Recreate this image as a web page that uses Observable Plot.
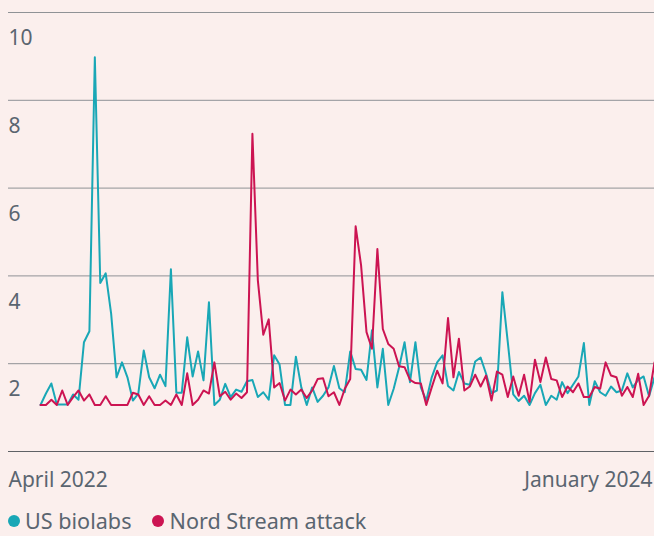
<!DOCTYPE html>
<html><head><meta charset="utf-8">
<script src="https://cdn.jsdelivr.net/npm/d3@7"></script>
<script src="https://cdn.jsdelivr.net/npm/@observablehq/plot@0.6"></script>
<style>
html,body{margin:0;padding:0;background:#fbefed;}
body{width:654px;height:536px;overflow:hidden;font-family:"Noto Sans",sans-serif;color:#5a6570;}
#legend{display:flex;align-items:center;margin-top:11px;margin-left:8px;font-size:21.6px;line-height:20px;height:20px;}
.item{display:flex;align-items:center;margin-right:21px;}
.dot{width:12px;height:12px;border-radius:50%;margin-right:5px;}
</style></head><body>
<div id="chart"></div><div id="legend"></div>
<script>
const seriesNames = ["US biolabs", "Nord Stream attack"];
const seriesColors = ["#19a7b6", "#cc1452"];
const usBiolabs = [1.06,1.32,1.55,1.07,1.07,1.07,1.3,1.18,2.49,2.74,
  8.98,3.84,4.06,3.14,1.69,2.03,1.69,1.16,1.32,2.3,
  1.69,1.44,1.75,1.49,4.15,1.34,1.34,2.6,1.71,2.28,
  1.62,3.4,1.06,1.18,1.54,1.24,1.41,1.36,1.6,1.63,
  1.24,1.35,1.18,2.19,1.98,1.06,1.06,2.16,1.46,1.06,
  1.46,1.13,1.27,1.46,1.95,1.44,1.35,2.28,1.88,1.86,
  1.63,2.76,1.46,2.34,1.06,1.43,1.92,2.49,1.58,2.49,
  1.46,1.16,1.69,2.03,2.19,1.49,1.39,1.81,1.55,1.52,
  2.05,2.14,1.77,1.33,1.39,3.63,2.49,1.3,1.15,1.27,
  1.06,1.33,1.52,1.06,1.27,1.18,1.58,1.33,1.52,1.71,
  2.47,1.06,1.6,1.35,1.27,1.48,1.35,1.39,1.78,1.46,
  1.63,1.71,1.26,1.69];
const nordStream = [1.06,1.06,1.18,1.06,1.39,1.06,1.24,1.39,1.16,1.3,
  1.06,1.06,1.26,1.06,1.06,1.06,1.06,1.34,1.3,1.06,
  1.26,1.06,1.06,1.16,1.06,1.3,1.06,1.78,1.06,1.18,
  1.39,1.32,2.03,1.26,1.36,1.18,1.32,1.22,1.35,7.24,
  3.9,2.66,3.01,1.46,1.56,1.16,1.41,1.3,1.41,1.22,
  1.39,1.65,1.67,1.26,1.35,1.06,1.43,1.65,5.13,4.24,
  2.72,2.34,4.61,2.79,2.45,2.34,1.94,1.92,1.63,1.56,
  1.55,1.06,1.46,1.84,1.55,3.04,1.69,2.57,1.39,1.48,
  1.75,1.48,1.73,1.16,1.82,1.75,1.24,1.71,1.27,1.75,
  1.13,2.09,1.58,2.14,1.65,1.62,1.24,1.48,1.35,1.55,
  1.24,1.24,1.47,1.43,2.03,1.73,1.69,1.27,1.47,1.24,
  1.77,1.06,1.27,2.03];
const yTicks = [2, 4, 6, 8, 10];
const xLabels = ["April 2022", "January 2024"];

const rows = [];
usBiolabs.forEach((v, i) => rows.push({i, v, s: seriesNames[0]}));
nordStream.forEach((v, i) => rows.push({i, v, s: seriesNames[1]}));

const textColor = "#5a6570";
const chart = Plot.plot({
  width: 654, height: 500,
  marginLeft: 8, marginRight: 0, marginTop: 12, marginBottom: 49,
  style: {background: "transparent", fontFamily: "Noto Sans", fontSize: "21px", color: textColor},
  x: {domain: [0, usBiolabs.length - 1], range: [40, 654], axis: null},
  y: {domain: [0, 10], axis: null},
  color: {domain: seriesNames, range: seriesColors},
  marks: [
    Plot.ruleY(yTicks, {stroke: "#8f9296", strokeWidth: 1}),
    Plot.ruleY([0], {stroke: "#5f6266", strokeWidth: 1}),
    Plot.text(yTicks, {y: d => d, frameAnchor: "left", textAnchor: "start", dy: 26, fill: textColor, fontSize: 21}),
    Plot.lineY(rows, {x: "i", y: "v", stroke: "s", z: "s", strokeWidth: 2}),
    Plot.text([xLabels[0]], {frameAnchor: "bottom-left", textAnchor: "start", dy: 35, fill: textColor, fontSize: 21}),
    Plot.text([xLabels[1]], {frameAnchor: "bottom-right", textAnchor: "end", dy: 35, dx: -2, fill: textColor, fontSize: 21})
  ]
});
document.getElementById("chart").appendChild(chart);

const legend = document.getElementById("legend");
seriesNames.forEach((name, k) => {
  const item = document.createElement("div");
  item.className = "item";
  const dot = document.createElement("span");
  dot.className = "dot";
  dot.style.background = seriesColors[k];
  const label = document.createElement("span");
  label.textContent = name;
  item.appendChild(dot);
  item.appendChild(label);
  legend.appendChild(item);
});
</script>
</body></html>
